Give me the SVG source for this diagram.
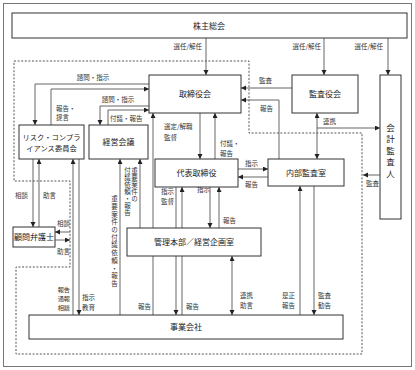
<svg xmlns="http://www.w3.org/2000/svg" width="415" height="370" viewBox="0 0 415 370">
<style>
.box{fill:#fff;stroke:#333;stroke-width:1}
.t{font-family:"Noto Sans CJK JP","Noto Sans CJK SC",sans-serif;font-size:8px;fill:#222;text-anchor:middle}
.l{font-family:"Noto Sans CJK JP","Noto Sans CJK SC",sans-serif;font-size:6.5px;fill:#333}
.v{font-family:"Noto Sans CJK JP","Noto Sans CJK SC",sans-serif;font-size:6.5px;fill:#333;writing-mode:vertical-rl;text-anchor:start}
.c{fill:none;stroke:#555;stroke-width:0.9}
.a{marker-end:url(#ah)}
.b{marker-start:url(#ah);marker-end:url(#ah)}
</style>
<defs>
<marker id="ah" markerUnits="userSpaceOnUse" markerWidth="6" markerHeight="6" refX="5" refY="2.5" orient="auto-start-reverse"><path d="M0,0 L5,2.5 L0,5 z" fill="#222"/></marker>
</defs>
<rect x="3.5" y="3.5" width="408" height="363" fill="#fff" stroke="#777" stroke-width="1"/>
<path d="M14,61 H249 V133 H362 V354 H16 V267 H70 V181 H14 Z" fill="none" stroke="#444" stroke-width="0.9" stroke-dasharray="2,1.6"/>
<g id="connectors">
<path class="c a" d="M206,38 V75"/>
<path class="c a" d="M324,38 V75"/>
<path class="c a" d="M388,38 V75"/>
<path class="c a" d="M149,84 H35 V125"/>
<path class="c a" d="M51,125 V89 H149"/>
<path class="c a" d="M149,106 H100 V125"/>
<path class="c a" d="M108,125 V110 H149"/>
<path class="c a" d="M292,88 H241"/>
<path class="c a" d="M279,159 V100 H241"/>
<path class="c b" d="M317,113 V159"/>
<path class="c a" d="M317,128 H380"/>
<path class="c a" d="M380,175 H363"/>
<path class="c a" d="M200,113 V159"/>
<path class="c a" d="M215,159 V113"/>
<path class="c a" d="M238,169 H268"/>
<path class="c a" d="M268,177 H238"/>
<path class="c a" d="M176,187 V315"/>
<path class="c a" d="M182,315 V187"/>
<path class="c a" d="M210,187 V228"/>
<path class="c a" d="M219,228 V187"/>
<path class="c b" d="M232,256 V315"/>
<path class="c a" d="M300,315 V186"/>
<path class="c a" d="M314,186 V315"/>
<path class="c a" d="M153,315 V113"/>
<path class="c a" d="M140,228 V159"/>
<path class="c a" d="M120,315 V159"/>
<path class="c a" d="M33,159 V227"/>
<path class="c a" d="M39,227 V159"/>
<path class="c a" d="M73,315 V159"/>
<path class="c a" d="M79,159 V315"/>
<path class="c a" d="M70,232 H55"/>
<path class="c a" d="M55,240 H70"/>
</g>
<g id="labels">
<text class="l" x="202" y="49" text-anchor="end">選任/解任</text>
<text class="l" x="321" y="49" text-anchor="end">選任/解任</text>
<text class="l" x="383" y="49" text-anchor="end">選任/解任</text>
<text class="l" x="93" y="80" text-anchor="middle">諮問・指示</text>
<text class="l" x="56" y="111">報告・</text>
<text class="l" x="56" y="120">提言</text>
<text class="l" x="118" y="102" text-anchor="middle">諮問・指示</text>
<text class="l" x="110" y="121">付議・報告</text>
<text class="l" x="259" y="83">監査</text>
<text class="l" x="260" y="111">報告</text>
<text class="l" x="323" y="124">連携</text>
<text class="l" x="366" y="186">監査</text>
<text class="l" x="164" y="129">選定/解職</text>
<text class="l" x="164" y="140">監督</text>
<text class="l" x="220" y="146">付議・</text>
<text class="l" x="220" y="156">報告</text>
<text class="l" x="245" y="166">指示</text>
<text class="l" x="245" y="187">報告</text>
<text class="l" x="161" y="193.5">指示</text>
<text class="l" x="161" y="203.5">監督</text>
<text class="l" x="197" y="192">指示</text>
<text class="l" x="223" y="222.5">報告</text>
<text class="l" x="240" y="298">連携</text>
<text class="l" x="240" y="308">助言</text>
<text class="l" x="282" y="298">是正</text>
<text class="l" x="282" y="308">報告</text>
<text class="l" x="318" y="298">監査</text>
<text class="l" x="318" y="308">勧告</text>
<text class="l" x="138" y="308.5">報告</text>
<text class="l" x="186" y="308.5">報告</text>
<text class="l" x="70" y="291.5" text-anchor="end" style="font-size:6.2px">報告</text>
<text class="l" x="70" y="300.5" text-anchor="end" style="font-size:6.2px">通報</text>
<text class="l" x="70" y="309.5" text-anchor="end" style="font-size:6.2px">相談</text>
<text class="l" x="82" y="299.5">指示</text>
<text class="l" x="82" y="309.5">教育</text>
<text class="l" x="15" y="198">相談</text>
<text class="l" x="43" y="198">助言</text>
<text class="l" x="57" y="226">相談</text>
<text class="l" x="57" y="254">助言</text>
<text class="v" x="134.5" y="167.5" style="letter-spacing:0.5px">重要案件の</text>
<text class="v" x="127.5" y="167.5" style="letter-spacing:0.5px">付議依頼・報告</text>
<text class="v" x="114.5" y="195.5" style="letter-spacing:1.2px">重要案件の付議依頼・報告</text>
</g>
<g id="shareholders"><rect class="box" x="12" y="13" width="395" height="25"/><text class="t" x="209" y="28.5">株主総会</text></g>
<g id="board"><rect class="box" x="149" y="75" width="92" height="38"/><text class="t" x="195" y="97">取締役会</text></g>
<g id="auditors"><rect class="box" x="292" y="75" width="66" height="38"/><text class="t" x="325" y="97">監査役会</text></g>
<g id="accounting-auditor"><rect class="box" x="380" y="75" width="21" height="144"/><text class="t" x="390.5" y="123.5" style="writing-mode:vertical-rl;text-anchor:start;font-size:8.5px;letter-spacing:3px">会計監査人</text></g>
<g id="risk"><rect class="box" x="19" y="125" width="65" height="34"/><text class="t" x="51.5" y="140" style="font-size:7.3px">リスク・コンプラ</text><text class="t" x="51.5" y="151" style="font-size:7.3px">イアンス委員会</text></g>
<g id="mgmt-meeting"><rect class="box" x="89" y="125" width="59" height="34"/><text class="t" x="118.5" y="145">経営会議</text></g>
<g id="ceo"><rect class="box" x="155" y="159" width="83" height="28"/><text class="t" x="196.5" y="176">代表取締役</text></g>
<g id="internal-audit"><rect class="box" x="268" y="159" width="76" height="27"/><text class="t" x="306" y="175.5">内部監査室</text></g>
<g id="lawyer"><rect class="box" x="13" y="227" width="42" height="20"/><text class="t" x="34" y="240">顧問弁護士</text></g>
<g id="admin"><rect class="box" x="127" y="228" width="134" height="28"/><text class="t" x="194" y="245">管理本部／経営企画室</text></g>
<g id="companies"><rect class="box" x="29" y="315" width="314" height="24"/><text class="t" x="186" y="330">事業会社</text></g>
</svg>
